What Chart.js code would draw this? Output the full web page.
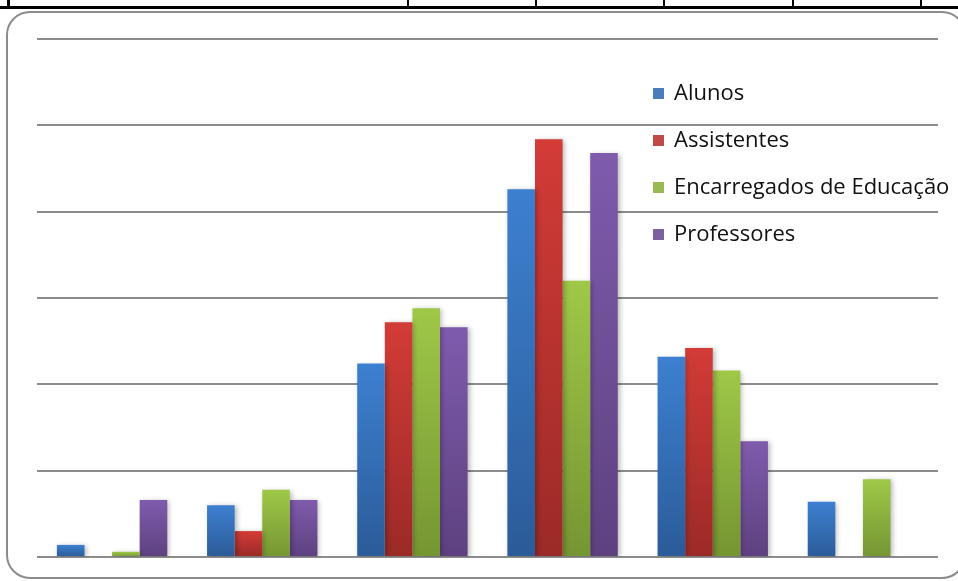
<!DOCTYPE html>
<html>
<head>
<meta charset="utf-8">
<script src="https://cdn.jsdelivr.net/npm/chart.js@4"></script>
<style>
  html, body { margin: 0; padding: 0; background: #fff; }
  #wrap { position: relative; width: 958px; height: 581px; overflow: hidden; }
  #frame {
    position: absolute; left: 6px; top: 11px; width: 960px; height: 568px;
    border: 2px solid #8c8c8c; border-radius: 24px; box-sizing: border-box;
  }
  .tline { position: absolute; background: #000; }
  #chartBox { position: absolute; left: 0; top: 0; width: 958px; height: 581px; }
  #legend {
    position: absolute; left: 653px; top: 74px;
    font-family: "Open Sans", sans-serif; font-size: 22px; color: #111;
  }
  .item { height: 47px; line-height: 34px; white-space: nowrap; }
  .sw { display: inline-block; width: 11px; height: 11px; margin-right: 10px; vertical-align: 1px; }
</style>
</head>
<body>
<div id="wrap">
  <div class="tline" style="left:0;top:6px;width:958px;height:3px"></div>
  <div class="tline" style="left:7px;top:0;width:3px;height:9px"></div>
  <div class="tline" style="left:407px;top:0;width:2px;height:9px"></div>
  <div class="tline" style="left:535px;top:0;width:2px;height:9px"></div>
  <div class="tline" style="left:663px;top:0;width:2px;height:9px"></div>
  <div class="tline" style="left:792px;top:0;width:2px;height:9px"></div>
  <div class="tline" style="left:920px;top:0;width:2px;height:9px"></div>
  <div id="frame"></div>
  <div id="chartBox"><canvas id="chart" width="958" height="581"></canvas></div>
  <div id="legend"></div>
</div>
<script>
// category names are not shown on the chart
const categories = ["1", "2", "3", "4", "5", "6"];
const seriesNames = ["Alunos", "Assistentes", "Encarregados de Educação", "Professores"];

const alunos = [0.7, 3.0, 11.2, 21.3, 11.6, 3.2];
const assistentes = [0, 1.5, 13.6, 24.2, 12.1, 0];
const encarregados = [0.3, 3.9, 14.4, 16.0, 10.8, 4.5];
const professores = [3.3, 3.3, 13.3, 23.4, 6.7, 0];

const yMax = 30;
const yStep = 5;

// [top, bottom, legend swatch]
const palette = [
  ["#3d80d0", "#2b5b98", "#4a7ebb"],
  ["#d33b37", "#9b2a27", "#be4b48"],
  ["#9fc848", "#759532", "#98b954"],
  ["#7f5bad", "#5d417f", "#7d60a0"]
];

function barFill(i) {
  return (ctx) => {
    const chart = ctx.chart;
    const y = chart.scales.y;
    if (!chart.chartArea || !y || ctx.raw == null) return palette[i][2];
    const top = y.getPixelForValue(ctx.raw);
    const base = y.getPixelForValue(0);
    if (!isFinite(top) || top >= base) return palette[i][2];
    const g = chart.ctx.createLinearGradient(0, top, 0, base);
    g.addColorStop(0, palette[i][0]);
    g.addColorStop(1, palette[i][1]);
    return g;
  };
}

const seriesData = [alunos, assistentes, encarregados, professores];

// soft shadow behind the bars
const barShadow = {
  id: "barShadow",
  beforeDatasetsDraw(chart) {
    const c = chart.ctx;
    c.save();
    c.shadowColor = "rgba(0,0,0,0.28)";
    c.shadowBlur = 5;
    c.shadowOffsetX = 2;
    c.shadowOffsetY = 1;
  },
  afterDatasetsDraw(chart) {
    chart.ctx.restore();
  }
};

new Chart(document.getElementById("chart"), {
  type: "bar",
  data: {
    labels: categories,
    datasets: seriesNames.map((name, i) => ({
      label: name,
      data: seriesData[i],
      backgroundColor: barFill(i),
      borderWidth: 0,
      categoryPercentage: 0.735,
      barPercentage: 1.0
    }))
  },
  options: {
    responsive: false,
    animation: false,
    layout: { padding: { left: 37, right: 20, top: 39, bottom: 24 } },
    plugins: { legend: { display: false }, tooltip: { enabled: false } },
    scales: {
      x: {
        grid: { display: false, drawTicks: false },
        border: { display: false },
        ticks: { display: false }
      },
      y: {
        min: 0,
        max: yMax,
        ticks: { display: false, stepSize: yStep },
        grid: { color: "#8c8c8c", lineWidth: 2, drawTicks: false },
        border: { display: false }
      }
    }
  },
  plugins: [barShadow]
});

const legend = document.getElementById("legend");
seriesNames.forEach((name, i) => {
  const row = document.createElement("div");
  row.className = "item";
  const sw = document.createElement("span");
  sw.className = "sw";
  sw.style.background = palette[i][2];
  row.appendChild(sw);
  row.appendChild(document.createTextNode(name));
  legend.appendChild(row);
});
</script>
</body>
</html>
